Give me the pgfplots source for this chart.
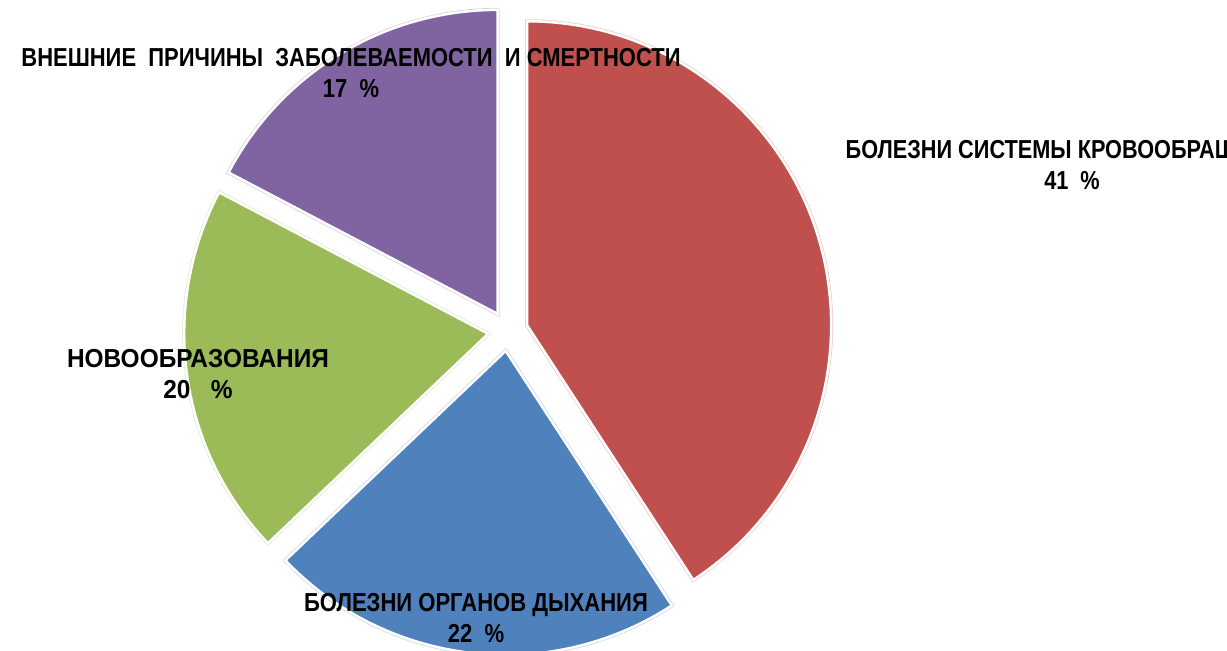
\documentclass[border=0pt]{standalone}
\usepackage{pgfplots}
\pgfplotsset{compat=1.18}
\usepackage{pgfplotstable}
\usepackage{fontspec}
\setmainfont{Liberation Sans}
\newfontfamily\lblP[FakeStretch=0.845]{Liberation Sans Bold}
\newfontfamily\lblR[FakeStretch=0.835]{Liberation Sans Bold}
\newfontfamily\lblB[FakeStretch=0.848]{Liberation Sans Bold}
\newfontfamily\lblG[FakeStretch=0.94]{Liberation Sans Bold}
\definecolor{cRed}{HTML}{C0504D}
\definecolor{cBlue}{HTML}{4F81BD}
\definecolor{cGreen}{HTML}{9BBB59}
\definecolor{cPurple}{HTML}{8064A2}

\pgfplotstableread{
label value
circ 40.8
resp 22.1
neo 19.8
ext 17.3
}\piedata

\begin{document}
\begin{tikzpicture}
% read values and compute slice angles
\pgfplotstablegetelem{0}{value}\of\piedata \pgfmathsetmacro{\va}{\pgfplotsretval}
\pgfplotstablegetelem{1}{value}\of\piedata \pgfmathsetmacro{\vb}{\pgfplotsretval}
\pgfplotstablegetelem{2}{value}\of\piedata \pgfmathsetmacro{\vc}{\pgfplotsretval}
\pgfplotstablegetelem{3}{value}\of\piedata \pgfmathsetmacro{\vd}{\pgfplotsretval}
\pgfmathsetmacro{\tot}{\va+\vb+\vc+\vd}
\pgfmathsetmacro{\aA}{90}
\pgfmathsetmacro{\aB}{\aA-360*\va/\tot}
\pgfmathsetmacro{\aC}{\aB-360*\vb/\tot}
\pgfmathsetmacro{\aD}{\aC-360*\vc/\tot}
\pgfmathsetmacro{\aE}{\aD-360*\vd/\tot}
\def\cx{508}\def\cy{320}\def\ex{20}\def\R{304}
\pgfmathsetmacro{\mA}{(\aA+\aB)/2}
\pgfmathsetmacro{\mB}{(\aB+\aC)/2}
\pgfmathsetmacro{\mC}{(\aC+\aD)/2}
\pgfmathsetmacro{\mD}{(\aD+\aE)/2}
\pgfmathsetmacro{\pAx}{\cx+\ex*cos(\mA)}\pgfmathsetmacro{\pAy}{\cy+\ex*sin(\mA)}
\pgfmathsetmacro{\pBx}{\cx+\ex*cos(\mB)}\pgfmathsetmacro{\pBy}{\cy+\ex*sin(\mB)}
\pgfmathsetmacro{\pCx}{\cx+\ex*cos(\mC)}\pgfmathsetmacro{\pCy}{\cy+\ex*sin(\mC)}
\pgfmathsetmacro{\pDx}{\cx+\ex*cos(\mD)}\pgfmathsetmacro{\pDy}{\cy+\ex*sin(\mD)}
\begin{axis}[
  width=1227pt, height=651pt, scale only axis,
  xmin=0, xmax=1227, ymin=0, ymax=651,
  hide axis, clip=false,
]
\coordinate (SW) at (axis cs:0,0);
\coordinate (NE) at (axis cs:1227,651);
% faint outer outlines
\draw[cRed!30, line width=4pt] (axis cs:\pAx,\pAy) -- ++(\aA:\R pt) arc[start angle=\aA, end angle=\aB, radius=\R pt] -- cycle;
\draw[cBlue!30, line width=4pt] (axis cs:\pBx,\pBy) -- ++(\aB:\R pt) arc[start angle=\aB, end angle=\aC, radius=\R pt] -- cycle;
\draw[cGreen!30, line width=4pt] (axis cs:\pCx,\pCy) -- ++(\aC:\R pt) arc[start angle=\aC, end angle=\aD, radius=\R pt] -- cycle;
\draw[cPurple!30, line width=4pt] (axis cs:\pDx,\pDy) -- ++(\aD:\R pt) arc[start angle=\aD, end angle=\aE, radius=\R pt] -- cycle;
% slices
\fill[cRed, draw=white, line width=2.5pt] (axis cs:\pAx,\pAy) -- ++(\aA:\R pt) arc[start angle=\aA, end angle=\aB, radius=\R pt] -- cycle;
\fill[cBlue, draw=white, line width=2.5pt] (axis cs:\pBx,\pBy) -- ++(\aB:\R pt) arc[start angle=\aB, end angle=\aC, radius=\R pt] -- cycle;
\fill[cGreen, draw=white, line width=2.5pt] (axis cs:\pCx,\pCy) -- ++(\aC:\R pt) arc[start angle=\aC, end angle=\aD, radius=\R pt] -- cycle;
\fill[cPurple, draw=white, line width=2.5pt] (axis cs:\pDx,\pDy) -- ++(\aD:\R pt) arc[start angle=\aD, end angle=\aE, radius=\R pt] -- cycle;
% labels
\node[align=center, font=\lblP\fontsize{26}{31}\selectfont, inner sep=0pt] at (axis cs:351,578)
  {ВНЕШНИЕ\ \ ПРИЧИНЫ\ \ ЗАБОЛЕВАЕМОСТИ\ \ И СМЕРТНОСТИ\\17\ \ \%};
\node[align=center, font=\lblR\fontsize{26}{31}\selectfont, inner sep=0pt] at (axis cs:1072,486)
  {БОЛЕЗНИ СИСТЕМЫ КРОВООБРАЩЕНИЯ\\41\ \ \%};
\node[align=center, font=\lblG\fontsize{26}{31}\selectfont, inner sep=0pt] at (axis cs:198,277)
  {НОВООБРАЗОВАНИЯ\\20\ \ \ \%};
\node[align=center, font=\lblB\fontsize{26}{31}\selectfont, inner sep=0pt] at (axis cs:476,33)
  {БОЛЕЗНИ ОРГАНОВ ДЫХАНИЯ\\22\ \ \%};
\end{axis}
\pgfresetboundingbox
\useasboundingbox (SW) rectangle (NE);
\end{tikzpicture}
\end{document}
